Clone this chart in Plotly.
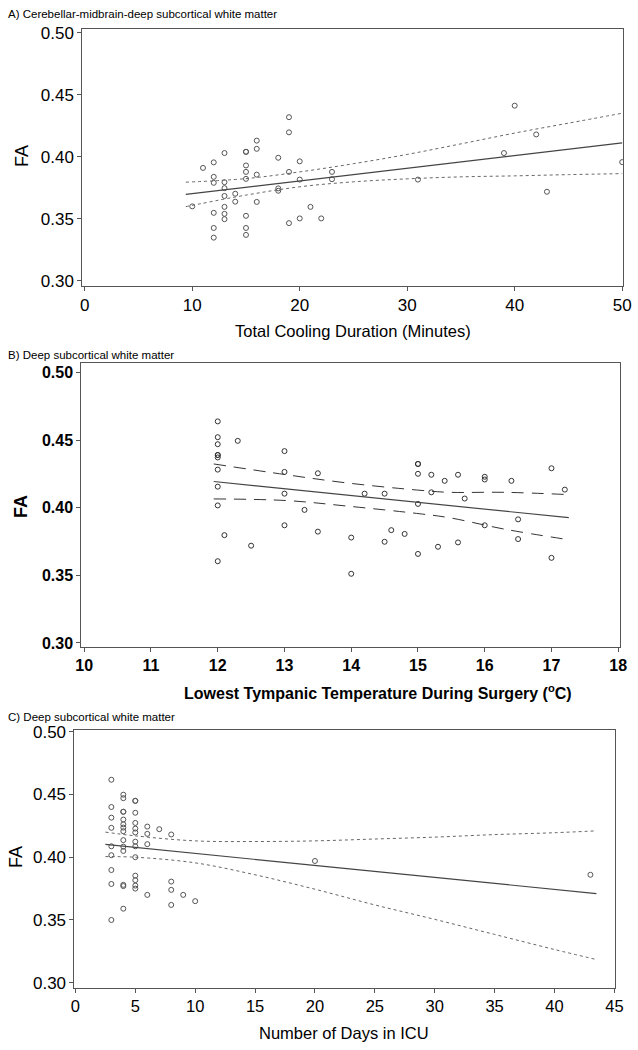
import plotly.graph_objects as go

# ---------------- Panel A data ----------------
a_x = [10, 11, 12, 12, 12, 12, 12, 12, 13, 13, 13, 13, 13, 13, 13, 14, 14,
       15, 15, 15, 15, 15, 15, 15, 15, 16, 16, 16, 16, 18, 18, 18, 19, 19, 19, 19,
       20, 20, 20, 21, 22, 23, 23, 31, 39, 40, 42, 43, 50]
a_y = [0.360, 0.391, 0.3955, 0.3838, 0.379, 0.3548, 0.3426, 0.3348,
       0.403, 0.3795, 0.3747, 0.3684, 0.3596, 0.354, 0.3497, 0.3702, 0.3638,
       0.404, 0.404, 0.393, 0.3878, 0.3822, 0.3524, 0.3426, 0.337,
       0.413, 0.4064, 0.3856, 0.3636, 0.3992, 0.3745, 0.3726,
       0.4319, 0.4197, 0.3878, 0.3465, 0.3963, 0.3816, 0.3503, 0.3596, 0.3503,
       0.3878, 0.3819, 0.3816, 0.403, 0.4412, 0.418, 0.3718, 0.3957]
a_fit_x = [9.4, 50]
a_fit_y = [0.3697, 0.4112]
a_band_x = [9.4, 15, 20, 25, 30, 35, 40, 45, 50]
a_upper = [0.3795, 0.3824, 0.3878, 0.3944, 0.4019, 0.4104, 0.4191, 0.4271, 0.4351]
a_lower = [0.3598, 0.3691, 0.3758, 0.3798, 0.3822, 0.3838, 0.3846, 0.3856, 0.3864]
a_xticks = [0, 10, 20, 30, 40, 50]

# ---------------- Panel B data ----------------
b_x = [12, 12, 12, 12, 12, 12, 12, 12, 12, 12, 12.1, 12.3, 12.5, 13, 13, 13, 13,
       13.3, 13.5, 13.5, 14, 14, 14.2, 14.5, 14.5, 14.6, 14.8, 15, 15, 15, 15, 15,
       15.2, 15.2, 15.3, 15.4, 15.6, 15.6, 15.7, 16, 16, 16, 16.4, 16.5, 16.5,
       17, 17, 17.2]
b_y = [0.464, 0.4523, 0.4471, 0.4391, 0.4391, 0.4373, 0.4283, 0.4157, 0.4018, 0.3605,
       0.3798, 0.4496, 0.372, 0.442, 0.4266, 0.4105, 0.3871,
       0.3985, 0.4256, 0.3824, 0.378, 0.3512, 0.4105, 0.4105, 0.3749, 0.3835, 0.3807,
       0.4325, 0.4325, 0.4252, 0.4029, 0.3659,
       0.4245, 0.4115, 0.3712, 0.420, 0.4245, 0.3744, 0.4069, 0.423, 0.421, 0.3871,
       0.420, 0.3915, 0.3769, 0.4293, 0.363, 0.4135]
b_fit_x = [11.94, 17.26]
b_fit_y = [0.4195, 0.3927]
b_band_x = [11.94, 13.03, 13.96, 15.03, 15.47, 16.3, 17.26]
b_upper = [0.4325, 0.4245, 0.4183, 0.413, 0.4115, 0.4115, 0.4098]
b_lower = [0.4066, 0.4054, 0.4012, 0.3956, 0.3927, 0.3842, 0.3764]
b_xticks = [10, 11, 12, 13, 14, 15, 16, 17, 18]

# ---------------- Panel C data ----------------
c_x = [3, 3, 3, 3, 3, 3, 3, 3, 3,
       4, 4, 4, 4, 4, 4, 4, 4, 4, 4, 4, 4, 4, 4,
       5, 5, 5, 5, 5, 5, 5, 5, 5, 5, 5, 5, 5,
       6, 6, 6, 6, 7, 8, 8, 8, 8, 9, 10, 20, 43]
c_y = [0.4617, 0.440, 0.4315, 0.4234, 0.4087, 0.4016, 0.3898, 0.3787, 0.350,
       0.4498, 0.447, 0.4362, 0.4362, 0.43, 0.4262, 0.4236, 0.4207, 0.4136, 0.4084,
       0.405, 0.378, 0.377, 0.359,
       0.4449, 0.4449, 0.4354, 0.4273, 0.4228, 0.4197, 0.4124, 0.4087, 0.400, 0.3853,
       0.3817, 0.3774, 0.375,
       0.4244, 0.4186, 0.4104, 0.370, 0.4223, 0.4181, 0.3806, 0.374, 0.362,
       0.370, 0.365, 0.397, 0.386]
c_fit_x = [2.5, 43.5]
c_fit_y = [0.4102, 0.371]
c_band_x = [2.5, 5, 10, 15, 20, 25, 30, 35, 40, 43.5]
c_upper = [0.420, 0.417, 0.413, 0.4125, 0.413, 0.4145, 0.416, 0.418, 0.4195, 0.421]
c_lower = [0.4005, 0.400, 0.3955, 0.386, 0.3745, 0.362, 0.3505, 0.3385, 0.3265, 0.3185]
c_xticks = [0, 5, 10, 15, 20, 25, 30, 35, 40, 45]

y_ticks = [0.30, 0.35, 0.40, 0.45, 0.50]
y_ticklabels = ["0.30", "0.35", "0.40", "0.45", "0.50"]

W, H = 638, 1050
FONT = "Liberation Sans, Arial, sans-serif"

fig = go.Figure()


def add_panel(n, xs, ys, fx, fy, bx, bu, bl, band_dash, mcolor, msize):
    xa = "x" if n == 1 else f"x{n}"
    ya = "y" if n == 1 else f"y{n}"
    fig.add_trace(go.Scatter(x=xs, y=ys, mode="markers", xaxis=xa, yaxis=ya,
                             marker=dict(symbol="circle-open", size=msize, color=mcolor,
                                         line=dict(width=1, color=mcolor)),
                             showlegend=False, hoverinfo="skip"))
    fig.add_trace(go.Scatter(x=fx, y=fy, mode="lines", xaxis=xa, yaxis=ya,
                             line=dict(color="#444444", width=1.2),
                             showlegend=False, hoverinfo="skip"))
    for band in (bu, bl):
        fig.add_trace(go.Scatter(x=bx, y=band, mode="lines", xaxis=xa, yaxis=ya,
                                 line=dict(color="#666666" if band_dash == "dot" else "#333333",
                                           width=1, dash=band_dash, shape="spline"),
                                 showlegend=False, hoverinfo="skip"))


add_panel(1, a_x, a_y, a_fit_x, a_fit_y, a_band_x, a_upper, a_lower, "dot", "#555555", 5)
add_panel(2, b_x, b_y, b_fit_x, b_fit_y, b_band_x, b_upper, b_lower, "12px,8px", "#333333", 5)
add_panel(3, c_x, c_y, c_fit_x, c_fit_y, c_band_x, c_upper, c_lower, "dot", "#555555", 5)


def px_x(p):
    return p / W


def px_y(p):
    return 1 - p / H


axis_common = dict(showline=True, mirror=True, linecolor="#555555", linewidth=1,
                   ticks="outside", ticklen=4, tickcolor="#555555", showgrid=False,
                   zeroline=False)

fig.update_layout(
    xaxis=dict(domain=[px_x(78), px_x(631)], range=[-0.23, 50.09], anchor="y",
               tickvals=a_xticks, tickfont=dict(family=FONT, size=17, color="black"),
               **axis_common),
    yaxis=dict(domain=[px_y(282), px_y(22)], range=[0.296, 0.5032], anchor="x",
               tickvals=y_ticks, ticktext=y_ticklabels,
               tickfont=dict(family=FONT, size=17, color="black"), **axis_common),
    xaxis2=dict(domain=[px_x(77), px_x(628)], range=[9.956, 18.03], anchor="y2",
                tickvals=b_xticks,
                tickfont=dict(family=FONT, size=16, color="black", weight="bold"),
                **axis_common),
    yaxis2=dict(domain=[px_y(647), px_y(360)], range=[0.2973, 0.5073], anchor="x2",
                tickvals=y_ticks, ticktext=y_ticklabels,
                tickfont=dict(family=FONT, size=16, color="black", weight="bold"),
                **axis_common),
    xaxis3=dict(domain=[px_x(70), px_x(623)], range=[-0.08, 45.08], anchor="y3",
                tickvals=c_xticks, tickfont=dict(family=FONT, size=16.5, color="black"),
                **axis_common),
    yaxis3=dict(domain=[px_y(992), px_y(731)], range=[0.2961, 0.5016], anchor="x3",
                tickvals=y_ticks, ticktext=y_ticklabels,
                tickfont=dict(family=FONT, size=17, color="black"), **axis_common),
)

annots = [
    dict(text="A) Cerebellar-midbrain-deep subcortical white matter", x=0, y=px_y(7),
         xanchor="left", yanchor="middle", font=dict(size=11.5)),
    dict(text="B) Deep subcortical white matter", x=0, y=px_y(352),
         xanchor="left", yanchor="middle", font=dict(size=11.5)),
    dict(text="C) Deep subcortical white matter", x=0, y=px_y(718),
         xanchor="left", yanchor="middle", font=dict(size=11.5)),
    dict(text="Total Cooling Duration (Minutes)", x=px_x(355), y=px_y(328),
         xanchor="center", yanchor="middle", font=dict(size=16.5)),
    dict(text="<b>Lowest Tympanic Temperature During Surgery (<sup>o</sup>C)</b>",
         x=px_x(380), y=px_y(693), xanchor="center", yanchor="middle", font=dict(size=16)),
    dict(text="Number of Days in ICU", x=px_x(346), y=px_y(1038),
         xanchor="center", yanchor="middle", font=dict(size=16.5)),
    dict(text="FA", x=px_x(17), y=px_y(151), xanchor="center", yanchor="middle",
         textangle=-90, font=dict(size=18)),
    dict(text="<b>FA</b>", x=px_x(16), y=px_y(505), xanchor="center", yanchor="middle",
         textangle=-90, font=dict(size=18)),
    dict(text="FA", x=px_x(10), y=px_y(860), xanchor="center", yanchor="middle",
         textangle=-90, font=dict(size=18)),
]
for a in annots:
    a.update(xref="paper", yref="paper", showarrow=False)
    a["font"].update(family=FONT, color="black")
fig.update_layout(annotations=annots)

fig.update_layout(width=W, height=H, margin=dict(l=0, r=0, t=0, b=0),
                  paper_bgcolor="white", plot_bgcolor="white",
                  font=dict(family=FONT, color="black"))

fig.write_html("out.html", config={"displayModeBar": False},
               post_script="document.body.style.margin='0px';"
                           "document.body.style.overflow='hidden';")
